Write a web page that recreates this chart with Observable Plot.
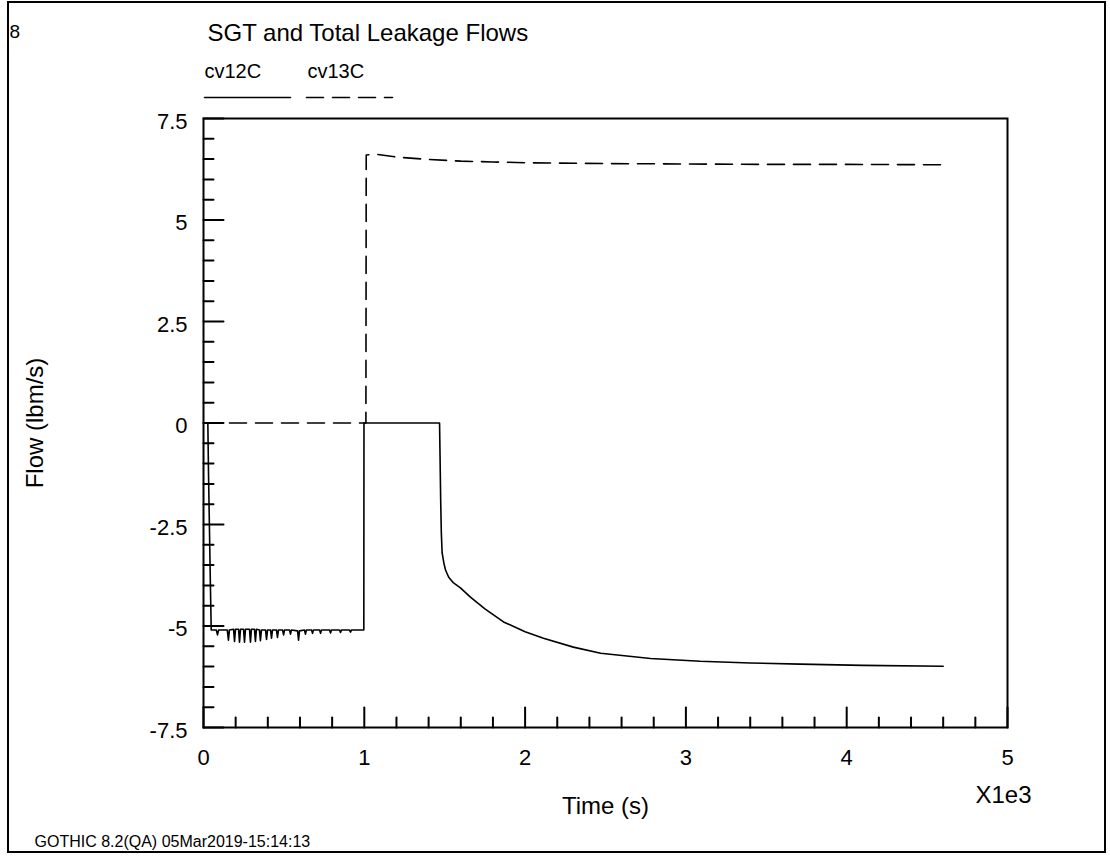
<!DOCTYPE html>
<html>
<head>
<meta charset="utf-8">
<script src="https://cdn.jsdelivr.net/npm/d3@7"></script>
<script src="https://cdn.jsdelivr.net/npm/@observablehq/plot@0.6"></script>
<style>
  body { margin: 0; background: #fff; }
  #chart { position: relative; width: 1110px; height: 857px; font-family: "Liberation Sans", Arial, sans-serif; }
  #border { position: absolute; left: 7px; top: 1px; width: 1099px; height: 852px; border: 2px solid #000; box-sizing: border-box; pointer-events: none; }
  #chart svg { position: absolute; left: 0; top: 0; }
</style>
</head>
<body>
<div id="chart"><div id="border"></div></div>
<script>
// Page texts
const pageNumber = "8";
const title = "SGT and Total Leakage Flows";
const seriesNames = ["cv12C", "cv13C"];
const xLabel = "Time (s)";
const yLabel = "Flow (lbm/s)";
const xMultiplier = "X1e3";
const footer = "GOTHIC 8.2(QA) 05Mar2019-15:14:13";

// Axis ticks (time in thousands of seconds)
const xTicks = [0, 1, 2, 3, 4, 5];
const xTickLabels = ["0", "1", "2", "3", "4", "5"];
const xMinorTicks = [0.2, 0.4, 0.6, 0.8, 1.2, 1.4, 1.6, 1.8, 2.2, 2.4, 2.6, 2.8, 3.2, 3.4, 3.6, 3.8, 4.2, 4.4, 4.6, 4.8];
const yTicks = [-7.5, -5, -2.5, 0, 2.5, 5, 7.5];
const yTickLabels = ["-7.5", "-5", "-2.5", "0", "2.5", "5", "7.5"];
const yMinorTicks = [-7, -6.5, -6, -5.5, -4.5, -4, -3.5, -3, -2, -1.5, -1, -0.5, 0.5, 1, 1.5, 2, 3, 3.5, 4, 4.5, 5.5, 6, 6.5, 7];

// cv12C: SGT leakage flow (lbm/s) against time (x1e3 s)
const cv12Time = [
  0, 0.027, 0.031, 0.037, 0.043, 0.048, 0.060,
  0.080, 0.087, 0.094,
  0.148, 0.155, 0.161,
  0.187, 0.193, 0.199,
  0.218, 0.224, 0.230,
  0.249, 0.255, 0.261,
  0.286, 0.292, 0.298,
  0.317, 0.323, 0.329,
  0.348, 0.354, 0.360,
  0.386, 0.392, 0.398,
  0.417, 0.423, 0.429,
  0.454, 0.460, 0.466,
  0.492, 0.498, 0.504,
  0.535, 0.541, 0.547,
  0.585, 0.591, 0.597,
  0.628, 0.634, 0.640,
  0.672, 0.678, 0.684,
  0.722, 0.728, 0.734,
  0.784, 0.790, 0.796,
  0.846, 0.852, 0.858,
  0.908, 0.914, 0.920,
  0.997, 0.998,
  1.468, 1.471, 1.475, 1.479, 1.484, 1.495, 1.505, 1.525, 1.555, 1.598, 1.660, 1.750, 1.866,
  2.000, 2.114, 2.300, 2.470, 2.780, 3.090, 3.400, 3.710, 4.100, 4.600
];
const cv12Flow = [
  0, 0, -1.2, -2.6, -4.0, -5.10, -5.10,
  -5.10, -5.22, -5.10,
  -5.10, -5.35, -5.10,
  -5.08, -5.38, -5.08,
  -5.08, -5.40, -5.08,
  -5.08, -5.40, -5.08,
  -5.08, -5.40, -5.08,
  -5.08, -5.38, -5.08,
  -5.10, -5.36, -5.10,
  -5.10, -5.33, -5.10,
  -5.10, -5.30, -5.10,
  -5.10, -5.28, -5.10,
  -5.10, -5.22, -5.10,
  -5.10, -5.20, -5.10,
  -5.12, -5.35, -5.12,
  -5.10, -5.20, -5.10,
  -5.10, -5.18, -5.10,
  -5.10, -5.18, -5.10,
  -5.10, -5.17, -5.10,
  -5.10, -5.16, -5.10,
  -5.10, -5.15, -5.10,
  -5.10, 0,
  0, -0.8, -1.9, -2.7, -3.20, -3.45, -3.62, -3.80, -3.94, -4.06, -4.29, -4.58, -4.90,
  -5.14, -5.30, -5.52, -5.67, -5.80, -5.87, -5.91, -5.94, -5.97, -5.99
];

// cv13C: total leakage flow (lbm/s) against time (x1e3 s)
const cv13Time = [0, 1.010, 1.012, 1.070, 1.200, 1.400, 1.600, 1.800, 2.000, 2.500, 3.000, 3.500, 4.000, 4.600];
const cv13Flow = [0, 0, 6.60, 6.62, 6.55, 6.49, 6.45, 6.43, 6.41, 6.39, 6.38, 6.37, 6.37, 6.36];

const cv12 = cv12Time.map((t, i) => ({t, flow: cv12Flow[i]}));
const cv13 = cv13Time.map((t, i) => ({t, flow: cv13Flow[i]}));

// Short line drawn from the anchor point along the vector direction
const tickShape = {draw(context, l) { context.moveTo(0, 0); context.lineTo(0, -l); }};
const dash = "17,9";
const label = {text: d => d, lineAnchor: "middle"};

const chart = Plot.plot({
  width: 1110,
  height: 857,
  marginLeft: 203,
  marginRight: 103,
  marginTop: 118,
  marginBottom: 130,
  style: {fontFamily: "'Liberation Sans', Arial, sans-serif", color: "#000", background: "transparent", overflow: "visible"},
  x: {domain: [0, 5]},
  y: {domain: [-7.5, 7.5]},
  marks: [
    // tick labels
    Plot.axisX({ticks: xTicks, tickSize: 0, tickPadding: 22, fontSize: 22, label: null,
      tickFormat: d => xTickLabels[xTicks.indexOf(d)]}),
    Plot.axisY({ticks: yTicks, tickSize: 0, tickPadding: 16, fontSize: 22, label: null, dy: 3,
      tickFormat: d => yTickLabels[yTicks.indexOf(d)]}),
    // inward tick marks
    Plot.vector(xTicks, {x: d => d, frameAnchor: "bottom", anchor: "start", rotate: 0, length: 20, shape: tickShape, strokeWidth: 2}),
    Plot.vector(xMinorTicks, {x: d => d, frameAnchor: "bottom", anchor: "start", rotate: 0, length: 10, shape: tickShape, strokeWidth: 2}),
    Plot.vector(yTicks, {y: d => d, frameAnchor: "left", anchor: "start", rotate: 90, length: 20, shape: tickShape, strokeWidth: 2}),
    Plot.vector(yMinorTicks, {y: d => d, frameAnchor: "left", anchor: "start", rotate: 90, length: 10, shape: tickShape, strokeWidth: 2}),
    Plot.frame({strokeWidth: 2}),
    // series
    Plot.line(cv13, {x: "t", y: "flow", stroke: "#000", strokeWidth: 1.6, strokeDasharray: dash}),
    Plot.line(cv12, {x: "t", y: "flow", stroke: "#000", strokeWidth: 1.6}),
    // legend
    Plot.text([seriesNames[0]], {...label, frameAnchor: "top-left", textAnchor: "start", dx: 1, dy: -47, fontSize: 20}),
    Plot.text([seriesNames[1]], {...label, frameAnchor: "top-left", textAnchor: "start", dx: 104, dy: -47, fontSize: 20}),
    Plot.vector([seriesNames[0]], {frameAnchor: "top-left", dx: 1, dy: -21, anchor: "start", rotate: 90, length: 86, shape: tickShape, strokeWidth: 1.6}),
    Plot.vector([seriesNames[1]], {frameAnchor: "top-left", dx: 103, dy: -21, anchor: "start", rotate: 90, length: 86, shape: tickShape, strokeWidth: 1.6, strokeDasharray: dash}),
    // titles and labels
    Plot.text([title], {...label, frameAnchor: "top-left", textAnchor: "start", dx: 4, dy: -85, fontSize: 24}),
    Plot.text([pageNumber], {...label, frameAnchor: "top-left", textAnchor: "start", dx: -194, dy: -87, fontSize: 19}),
    Plot.text([yLabel], {...label, frameAnchor: "left", textAnchor: "middle", dx: -168, rotate: -90, fontSize: 24}),
    Plot.text([xLabel], {...label, frameAnchor: "bottom", textAnchor: "middle", dy: 79, fontSize: 24}),
    Plot.text([xMultiplier], {...label, frameAnchor: "bottom-right", textAnchor: "middle", dx: -4, dy: 68, fontSize: 24}),
    Plot.text([footer], {...label, frameAnchor: "bottom-left", textAnchor: "start", dx: -169, dy: 114, fontSize: 16})
  ]
});

document.getElementById("chart").appendChild(chart);
</script>
</body>
</html>
